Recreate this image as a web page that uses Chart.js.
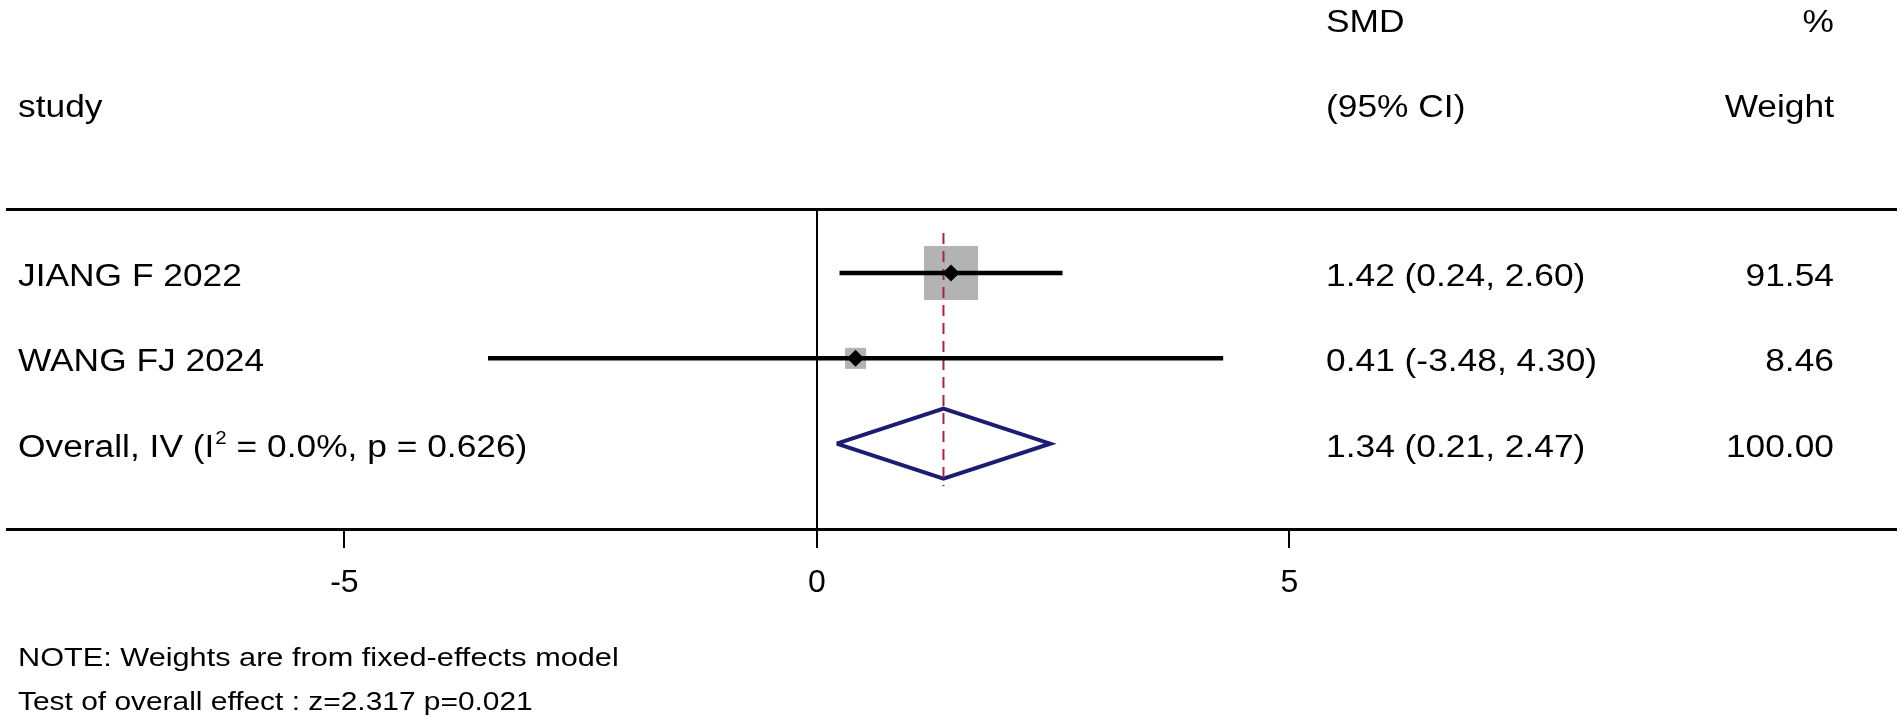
<!DOCTYPE html>
<html lang="en">
<head>
<meta charset="UTF-8">
<title>Forest plot - SMD</title>
<script src="https://cdn.jsdelivr.net/npm/chart.js"></script>
<style>
  html, body { margin: 0; padding: 0; background: #fff; }
  #forest { display: block; }
</style>
</head>
<body>
<canvas id="forest" width="1902" height="725"></canvas>
<script>
  // studies
  const studies = ["JIANG F 2022", "WANG FJ 2024"];
  const smd = [1.42, 0.41];
  const ciLow = [0.24, -3.48];
  const ciHigh = [2.60, 4.30];
  const weights = [91.54, 8.46];

  // pooled (fixed effects, IV)
  const overallLabel = ["Overall, IV (I", "2", " = 0.0%, p = 0.626)"];
  const overallSmd = 1.34;
  const overallLow = 0.21;
  const overallHigh = 2.47;
  const overallWeight = 100.00;

  const xTicks = [-5, 0, 5];
  const headLeft = ["SMD", "(95% CI)"];
  const headRight = ["%", "Weight"];
  const studyHead = "study";
  const notes = ["NOTE: Weights are from fixed-effects model",
                 "Test of overall effect : z=2.317 p=0.021"];

  const FONT = "'Liberation Sans', Arial, sans-serif";
  const rows = studies.map((s, i) => i + 1);
  const overallRow = studies.length + 1;
  const fmt = v => v.toFixed(2);

  // stata-ish text is a bit wider than plain arial
  function put(ctx, txt, x, y, size, align, sx) {
    ctx.save();
    ctx.font = size + "px " + FONT;
    ctx.textAlign = align || "left";
    ctx.textBaseline = "alphabetic";
    ctx.translate(x, y);
    ctx.scale(sx || 1.14, 1);
    ctx.fillText(txt, 0, 0);
    const w = ctx.measureText(txt).width * (sx || 1.14);
    ctx.restore();
    return w;
  }

  const textColumns = {
    id: "textColumns",
    afterDraw(chart) {
      const ctx = chart.ctx;
      const ys = chart.scales.y;
      const base = r => ys.getPixelForValue(r) + 13;
      ctx.fillStyle = "#000";

      // header
      put(ctx, headLeft[0], 1326, base(-2) + 2, 31);
      put(ctx, headRight[0], 1834, base(-2) + 2, 31, "right");
      put(ctx, studyHead, 18, base(-1) + 2, 31);
      put(ctx, headLeft[1], 1326, base(-1) + 2, 31);
      put(ctx, headRight[1], 1834, base(-1) + 2, 31, "right");

      studies.forEach((s, i) => {
        const y = base(rows[i]);
        put(ctx, s, 18, y, 31);
        put(ctx, fmt(smd[i]) + " (" + fmt(ciLow[i]) + ", " + fmt(ciHigh[i]) + ")", 1326, y, 31);
        put(ctx, fmt(weights[i]), 1834, y, 31, "right");
      });

      const yo = base(overallRow);
      let x = 18;
      x += put(ctx, overallLabel[0], x, yo, 31);
      x += put(ctx, overallLabel[1], x + 1, yo - 13, 18);
      put(ctx, overallLabel[2], x + 1, yo, 31);
      put(ctx, fmt(overallSmd) + " (" + fmt(overallLow) + ", " + fmt(overallHigh) + ")", 1326, yo, 31);
      put(ctx, fmt(overallWeight), 1834, yo, 31, "right");

      put(ctx, notes[0], 18, 666, 26, "left", 1.18);
      put(ctx, notes[1], 18, 710, 26, "left", 1.15);
    }
  };

  const boxSide = w => 6.6 + 4.96 * Math.sqrt(w);

  const ciSets = studies.map((s, i) => ({
    data: [{ x: ciLow[i], y: rows[i] }, { x: ciHigh[i], y: rows[i] }],
    showLine: true, borderColor: "#000", borderWidth: 4.5, pointRadius: 0
  }));

  new Chart(document.getElementById("forest"), {
    type: "scatter",
    data: {
      datasets: [
        {
          data: studies.map((s, i) => ({ x: smd[i], y: rows[i] })),
          pointStyle: "rectRot", pointRadius: 8.5, backgroundColor: "#000", borderWidth: 0
        },
        ...ciSets,
        {
          data: [{ x: overallSmd, y: rows[0] - 0.47 }, { x: overallSmd, y: overallRow + 0.5 }],
          showLine: true, borderColor: "#a3263f", borderWidth: 2, borderDash: [11, 7], pointRadius: 0
        },
        {
          data: [
            { x: overallLow, y: overallRow },
            { x: overallSmd, y: overallRow - 0.41 },
            { x: overallHigh, y: overallRow },
            { x: overallSmd, y: overallRow + 0.41 },
            { x: overallLow, y: overallRow }
          ],
          showLine: true, borderColor: "#1c1c72", borderWidth: 4, borderJoinStyle: "miter", pointRadius: 0
        },
        {
          data: studies.map((s, i) => ({ x: smd[i], y: rows[i] })),
          pointStyle: "rect",
          pointRadius: weights.map(w => boxSide(w) / (2 * Math.SQRT1_2)),
          backgroundColor: "#b3b3b3", borderWidth: 0
        }
      ]
    },
    options: {
      responsive: false,
      animation: false,
      devicePixelRatio: 1,
      layout: { autoPadding: false, padding: { left: 7, right: 6, top: 0, bottom: 0 } },
      plugins: { legend: { display: false }, tooltip: { enabled: false } },
      scales: {
        x: {
          type: "linear", position: "bottom", min: -8.57, max: 11.42,
          afterBuildTicks: s => { s.ticks = xTicks.map(v => ({ value: v })); },
          ticks: { color: "#000", font: { family: FONT, size: 32 }, padding: 16 },
          grid: {
            color: c => (c.tick && c.tick.value === 0 ? "#000" : "rgba(0,0,0,0)"),
            lineWidth: 2, tickColor: "#000", tickLength: 19, tickWidth: 2
          },
          border: { color: "#000", width: 3 },
          afterFit: s => { s.height = 196; s.paddingLeft = 0; s.paddingRight = 0; }
        },
        x2: {
          type: "linear", position: "top", display: true, min: -8.57, max: 11.42,
          ticks: { display: false },
          grid: { display: false, drawTicks: false },
          border: { display: true, color: "#000", width: 3 },
          afterFit: s => { s.height = 209; s.paddingLeft = 0; s.paddingRight = 0; }
        },
        y: { type: "linear", reverse: true, min: 0.25, max: 4.0, display: false }
      }
    },
    plugins: [textColumns]
  });
</script>
</body>
</html>
